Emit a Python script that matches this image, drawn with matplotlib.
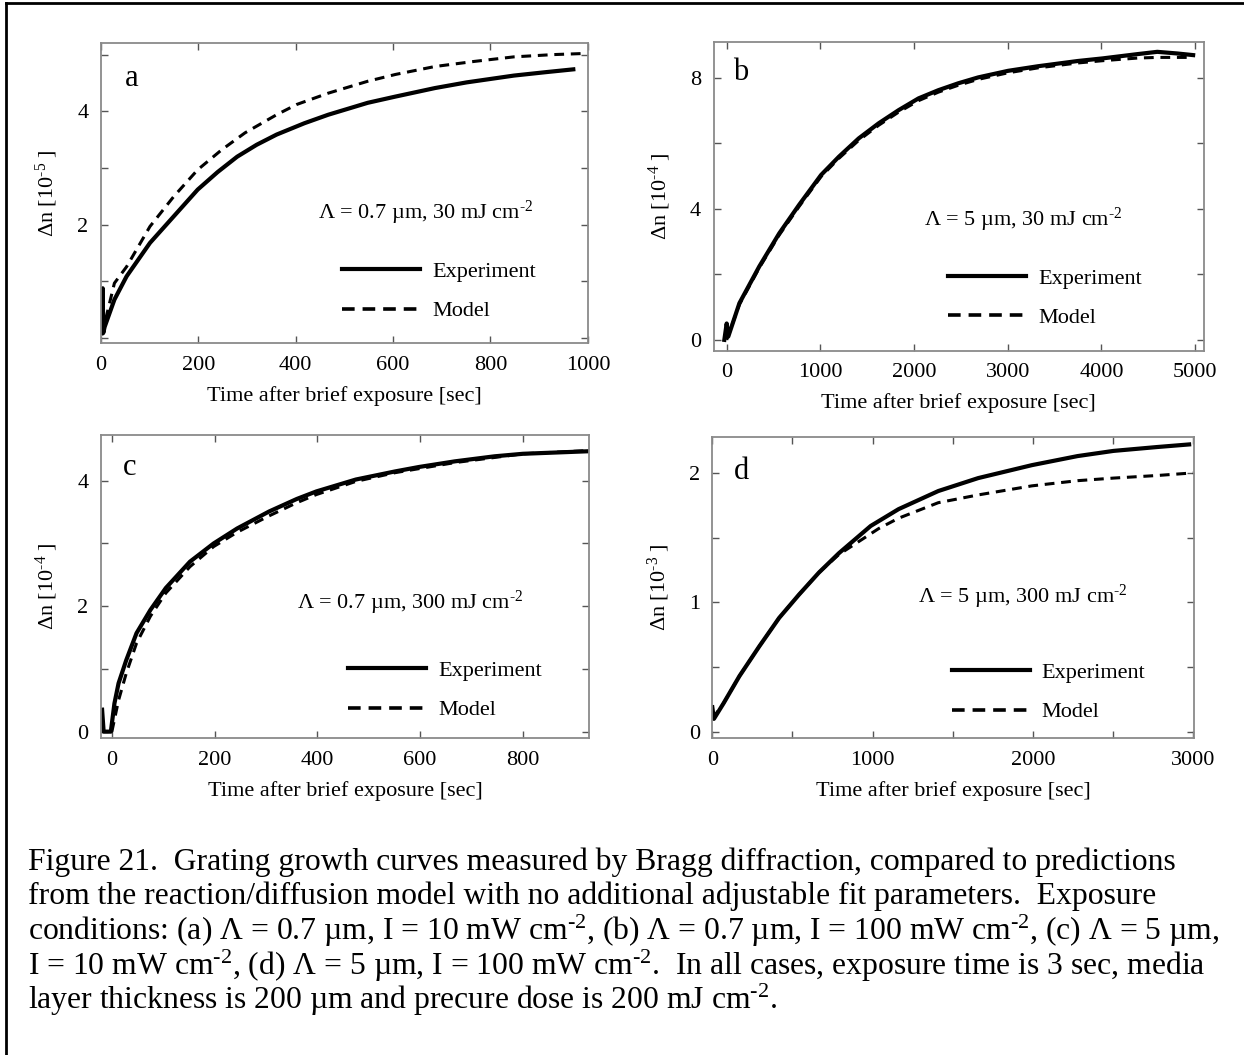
import matplotlib
matplotlib.use("Agg")
import matplotlib.pyplot as plt
from matplotlib.lines import Line2D
from matplotlib.ticker import FixedLocator

plt.rcParams["font.family"] = "Liberation Serif"
plt.rcParams["mathtext.fontset"] = "custom"
plt.rcParams["mathtext.rm"] = "Liberation Serif"
plt.rcParams["mathtext.it"] = "Liberation Serif:italic"

# ---- measured grating growth (experiment) and reaction/diffusion model ----
# (a) 0.7 um, 30 mJ/cm2, dn in 1e-5
a_t_exp = [0, 4, 5, 8, 28, 53, 101, 150, 199, 240, 280, 320, 361, 418, 467, 548, 605, 686, 751, 848, 913, 970]
a_dn_exp = [0.1, 0.88, 0.09, 0.2, 0.68, 1.09, 1.68, 2.15, 2.62, 2.93, 3.2, 3.41, 3.59, 3.79, 3.94, 4.15, 4.26, 4.41, 4.51, 4.63, 4.69, 4.74]
a_t_mod = [2, 28, 53, 101, 150, 199, 248, 296, 361, 402, 467, 548, 605, 686, 767, 848, 929, 994]
a_dn_mod = [0.05, 0.97, 1.26, 1.97, 2.5, 2.97, 3.32, 3.62, 3.94, 4.12, 4.32, 4.53, 4.65, 4.79, 4.88, 4.96, 5.0, 5.02]

# (b) 5 um, 30 mJ/cm2, dn in 1e-4
b_t_exp = [-25, 0, 17, 136, 348, 561, 773, 1007, 1198, 1410, 1623, 1835, 2048, 2260, 2472, 2685, 3003, 3322, 3747, 4014, 4384, 4596, 4809, 4979]
b_dn_exp = [0.0, 0.5, 0.1, 1.12, 2.24, 3.25, 4.12, 5.03, 5.59, 6.15, 6.61, 7.01, 7.37, 7.62, 7.83, 8.01, 8.21, 8.35, 8.51, 8.59, 8.72, 8.79, 8.74, 8.69]
b_t_mod = [0, 136, 348, 561, 773, 1007, 1198, 1410, 1623, 1835, 2048, 2260, 2472, 2685, 3003, 3322, 3747, 4014, 4384, 4596, 4809, 4979]
b_dn_mod = [0.0, 1.08, 2.2, 3.2, 4.07, 4.98, 5.54, 6.09, 6.55, 6.95, 7.3, 7.56, 7.77, 7.95, 8.15, 8.3, 8.45, 8.52, 8.6, 8.62, 8.62, 8.62]

# (c) 0.7 um, 300 mJ/cm2, dn in 1e-4
c_t_exp = [-19, -16, -2, 5, 13, 28, 48, 75, 105, 152, 198, 244, 306, 360, 398, 475, 552, 598, 668, 745, 800, 926]
c_dn_exp = [0.35, 0.0, 0.0, 0.45, 0.77, 1.14, 1.57, 1.94, 2.29, 2.71, 3.0, 3.24, 3.51, 3.71, 3.83, 4.02, 4.15, 4.22, 4.31, 4.39, 4.43, 4.47]
c_t_mod = [0, 13, 28, 48, 75, 105, 152, 198, 244, 306, 360, 398, 475, 552, 668, 800, 926]
c_dn_mod = [0.0, 0.5, 0.93, 1.41, 1.84, 2.21, 2.63, 2.95, 3.18, 3.44, 3.65, 3.78, 3.99, 4.13, 4.29, 4.43, 4.48]

# (d) 5 um, 300 mJ/cm2, dn in 1e-3
d_t_exp = [0, 10, 70, 169, 293, 417, 541, 665, 790, 988, 1162, 1410, 1659, 1994, 2279, 2503, 2776, 2975]
d_dn_exp = [0.19, 0.1, 0.22, 0.43, 0.66, 0.88, 1.06, 1.23, 1.38, 1.59, 1.72, 1.86, 1.96, 2.06, 2.13, 2.17, 2.2, 2.22]
d_t_mod = [0, 70, 169, 293, 417, 541, 665, 790, 914, 1038, 1162, 1410, 1659, 1994, 2279, 2503, 2776, 2999]
d_dn_mod = [0.1, 0.22, 0.43, 0.66, 0.88, 1.06, 1.23, 1.37, 1.47, 1.57, 1.65, 1.77, 1.83, 1.9, 1.94, 1.96, 1.98, 2.0]

sup2 = r"$^{\text{-2}}$"

panels = [
    dict(name="a", pos=[0.081, 0.6746, 0.3916, 0.2844], xlim=(0, 1000), ylim=(-0.09, 5.2),
         xt=[0, 200, 400, 600, 800, 1000], xm=[], yt=[2, 4], ym=[0, 1, 3, 5],
         exp=(a_t_exp, a_dn_exp), mod=(a_t_mod, a_dn_mod), exp10="-5",
         note="Λ = 0.7 µm, 30 mJ cm" + sup2, note_xy=(0.446, 0.434),
         letter_xy=(0.064, 0.884), leg_xy=(0.495, 0.173)),
    dict(name="b", pos=[0.5736, 0.6676, 0.3941, 0.2929], xlim=(-140, 5093), ylim=(-0.33, 9.1),
         xt=[0, 1000, 2000, 3000, 4000, 5000], xm=[], yt=[0, 4, 8], ym=[2, 6],
         exp=(b_t_exp, b_dn_exp), mod=(b_t_mod, b_dn_mod), exp10="-4",
         note="Λ = 5 µm, 30 mJ cm" + sup2, note_xy=(0.429, 0.423),
         letter_xy=(0.056, 0.899), leg_xy=(0.478, 0.17)),
    dict(name="c", pos=[0.081, 0.3002, 0.3926, 0.2875], xlim=(-21.6, 929), ylim=(-0.106, 4.73),
         xt=[0, 200, 400, 600, 800], xm=[], yt=[0, 2, 4], ym=[1, 3],
         exp=(c_t_exp, c_dn_exp), mod=(c_t_mod, c_dn_mod), exp10="-4",
         note="Λ = 0.7 µm, 300 mJ cm" + sup2, note_xy=(0.402, 0.446),
         letter_xy=(0.06, 0.894), leg_xy=(0.506, 0.158)),
    dict(name="d", pos=[0.5726, 0.3002, 0.3874, 0.2859], xlim=(0, 3007), ylim=(-0.05, 2.28),
         xt=[0, 1000, 2000, 3000], xm=[500, 1500, 2500], yt=[0, 1, 2], ym=[0.5, 1.5],
         exp=(d_t_exp, d_dn_exp), mod=(d_t_mod, d_dn_mod), exp10="-3",
         note="Λ = 5 µm, 300 mJ cm" + sup2, note_xy=(0.427, 0.468),
         letter_xy=(0.06, 0.883), leg_xy=(0.497, 0.152)),
]

fig = plt.figure(figsize=(12.44, 10.55), dpi=100)

for p in panels:
    ax = fig.add_axes(p["pos"])
    ax.plot(*p["exp"], color="black", lw=3.0, solid_joinstyle="round")
    ax.plot(*p["mod"], color="black", lw=2.2, ls=(0, (3.2, 2.2)))
    ax.set_xlim(*p["xlim"])
    ax.set_ylim(*p["ylim"])
    ax.set_xticks(p["xt"])
    ax.set_yticks(p["yt"])
    ax.xaxis.set_minor_locator(FixedLocator(p["xm"]))
    ax.yaxis.set_minor_locator(FixedLocator(p["ym"]))
    ax.tick_params(which="both", direction="in", top=True, right=True, length=5,
                   width=1, color="#555555", labelsize=16, pad=9)
    for s in ax.spines.values():
        s.set_color("#8a8a8a")
        s.set_linewidth(1.3)
    ax.set_xlabel("Time after brief exposure [sec]", fontsize=16, labelpad=8)
    ax.set_ylabel(r"Δn [10$^{\text{" + p["exp10"] + r"}}$ ]", fontsize=16, labelpad=12)
    ax.text(*p["letter_xy"], p["name"], transform=ax.transAxes, fontsize=22,
            ha="center", va="center")
    ax.text(*p["note_xy"], p["note"], transform=ax.transAxes, fontsize=16,
            ha="left", va="center")
    # legend keys drawn with slightly heavier strokes than the curves
    h_exp = Line2D([], [], color="black", lw=3.0)
    h_mod = Line2D([], [], color="black", lw=2.6, ls=(0, (3.5, 2.2)))
    ax.legend([h_exp, h_mod], ["Experiment", "Model"], loc="center left",
              bbox_to_anchor=p["leg_xy"], frameon=False, fontsize=16,
              handlelength=3.5, handletextpad=0.55, labelspacing=0.85,
              borderpad=0, borderaxespad=0)

caption = [
    "Figure 21.  Grating growth curves measured by Bragg diffraction, compared to predictions",
    "from the reaction/diffusion model with no additional adjustable fit parameters.  Exposure",
    "conditions: (a) Λ = 0.7 µm, I = 10 mW cm" + sup2 + ", (b) Λ = 0.7 µm, I = 100 mW cm" + sup2
    + ", (c) Λ = 5 µm,",
    "I = 10 mW cm" + sup2 + ", (d) Λ = 5 µm, I = 100 mW cm" + sup2
    + ".  In all cases, exposure time is 3 sec, media",
    "layer thickness is 200 µm and precure dose is 200 mJ cm" + sup2 + ".",
]
for i, line in enumerate(caption):
    fig.text(28 / 1244, 1 - (862 + i * 34.6) / 1055, line, fontsize=22.8,
             ha="left", va="center")

# page frame (left and top edges)
fig.add_artist(Line2D([6 / 1244, 6 / 1244], [0, 1 - 3 / 1055], color="black", lw=2,
                      transform=fig.transFigure))
fig.add_artist(Line2D([6 / 1244, 1], [1 - 3 / 1055, 1 - 3 / 1055], color="black", lw=2,
                      transform=fig.transFigure))

fig.savefig("out.png", dpi=100)
